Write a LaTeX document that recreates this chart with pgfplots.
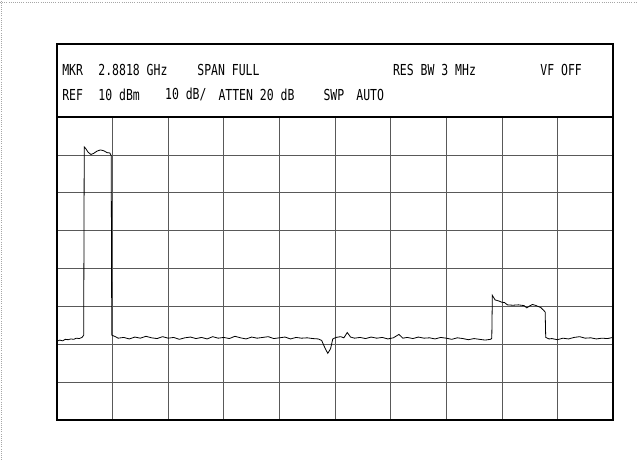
\documentclass[border=0pt]{standalone}
\usepackage{pgfplots}
\pgfplotsset{compat=1.18}
\usepackage{fontspec}
\setmainfont{DejaVu Sans Mono}

% header annotation, one token per node
\newcommand{\hdr}[3]{\node[anchor=west, inner sep=0pt, yscale=1.32] at (rel axis cs:#1,#2) {#3};}

\begin{document}
\begin{tikzpicture}
\useasboundingbox (0,0) rectangle (477.75pt,345pt);
% scanned page edges
\draw[black!35, line width=0.6pt, densely dotted] (1.2pt,0) -- (1.2pt,345pt);
\draw[black!35, line width=0.6pt, densely dotted] (0,343.5pt) -- (477.75pt,343.5pt);

\begin{axis}[
    at={(42.75pt,30pt)}, anchor=south west,
    scale only axis, width=417pt, height=227.25pt,
    xmin=0, xmax=10, ymin=-70, ymax=10,
    xtick={0,1,...,10}, ytick={-70,-60,...,10},
    xticklabels={}, yticklabels={},
    major tick length=0pt,
    grid=major,
    major grid style={black!65, line width=0.45pt},
    axis line style={black, line width=1.1pt},
    clip=false,
    font=\fontsize{8.6}{10}\selectfont,
]
% header box above the graticule
\draw[black, line width=1.1pt] (rel axis cs:0,1) -- (rel axis cs:0,1.241)
    -- (rel axis cs:1,1.241) -- (rel axis cs:1,1);

\hdr{0.009}{1.155}{MKR}
\hdr{0.074}{1.155}{2.8818 GHz}
\hdr{0.252}{1.155}{SPAN FULL}
\hdr{0.604}{1.155}{RES BW 3 MHz}
\hdr{0.869}{1.155}{VF OFF}
\hdr{0.009}{1.073}{REF}
\hdr{0.074}{1.073}{10 dBm}
\hdr{0.194}{1.073}{10 dB/}
\hdr{0.290}{1.073}{ATTEN 20 dB}
\hdr{0.479}{1.073}{SWP}
\hdr{0.538}{1.073}{AUTO}

\addplot[black, line width=0.6pt] coordinates {
(0,-49.2) (0.05,-48.9) (0.1,-49.1) (0.15,-48.7) (0.2,-48.8) (0.25,-48.6)
(0.3,-48.7) (0.35,-48.4) (0.4,-48.5) (0.45,-48.2) (0.48,-47.6)
(0.49,2.1) (0.52,1.6) (0.56,0.7) (0.61,0.1) (0.66,0.4) (0.72,1.0)
(0.78,1.3) (0.84,1.1) (0.9,0.6) (0.95,0.5) (0.975,-0.2)
(0.985,-47.6) (1.05,-48.0) (1.1,-48.4) (1.2,-48.2) (1.3,-48.6) (1.4,-48.1)
(1.5,-48.4) (1.6,-47.9) (1.7,-48.3) (1.8,-48.5) (1.9,-48.0) (2.0,-48.4)
(2.1,-48.2) (2.2,-48.7) (2.3,-48.3) (2.4,-48.1) (2.5,-48.5) (2.6,-48.2)
(2.7,-48.6) (2.8,-48.0) (2.9,-48.4) (3.0,-48.2) (3.1,-48.5) (3.2,-47.9)
(3.3,-48.3) (3.4,-48.6) (3.5,-48.1) (3.6,-48.4) (3.7,-48.2) (3.8,-48.0)
(3.9,-48.5) (4.0,-48.3) (4.1,-48.1) (4.2,-48.6) (4.3,-48.2) (4.4,-48.4)
(4.5,-48.3) (4.6,-48.5) (4.7,-48.6) (4.76,-49.0) (4.82,-51.0) (4.87,-52.4)
(4.92,-51.2) (4.96,-48.6) (5.02,-48.2) (5.1,-48.0) (5.16,-48.3) (5.22,-46.9)
(5.28,-48.1) (5.35,-48.4) (5.45,-48.2) (5.55,-48.5) (5.65,-48.1) (5.75,-48.4)
(5.85,-48.2) (5.95,-48.6) (6.05,-48.3) (6.15,-47.4) (6.22,-48.4) (6.3,-48.2)
(6.4,-48.5) (6.5,-48.1) (6.6,-48.4) (6.7,-48.3) (6.8,-48.6) (6.9,-48.2)
(7.0,-48.4) (7.1,-48.7) (7.2,-48.3) (7.3,-48.5) (7.4,-48.8) (7.5,-48.5)
(7.6,-48.7) (7.7,-48.9) (7.8,-48.7) (7.82,-48.4)
(7.83,-37.1) (7.88,-38.3) (7.95,-38.6) (8.0,-38.9) (8.05,-39.0) (8.1,-39.6)
(8.2,-39.7) (8.3,-39.6) (8.4,-39.8) (8.45,-40.4) (8.5,-39.9) (8.55,-39.5)
(8.6,-39.7) (8.65,-40.0) (8.7,-40.3) (8.75,-41.0) (8.78,-41.5)
(8.79,-48.2) (8.85,-48.6) (8.9,-48.5) (9.0,-48.8) (9.1,-48.4) (9.2,-48.6)
(9.3,-48.2) (9.4,-48.0) (9.5,-48.4) (9.6,-48.3) (9.7,-48.6) (9.8,-48.4)
(9.9,-48.5) (10,-48.2)
};
\end{axis}
\end{tikzpicture}
\end{document}
